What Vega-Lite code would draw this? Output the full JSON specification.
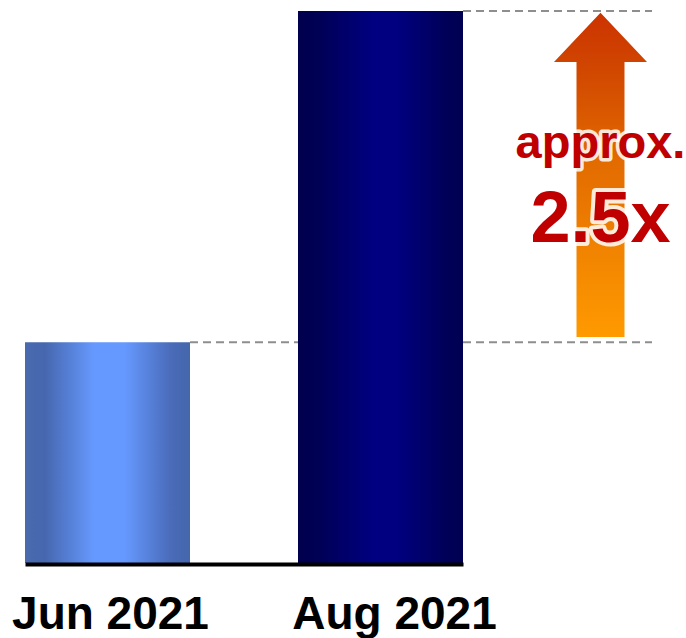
{
  "$schema": "https://vega.github.io/schema/vega-lite/v6.json",
  "width": 627,
  "height": 552,
  "autosize": "none",
  "padding": {"left": 25, "top": 11, "right": 34, "bottom": 75},
  "background": "white",
  "config": {"view": {"stroke": null}},
  "datasets": {
    "bars": [
      {"month": "Jun 2021", "value": 1},
      {"month": "Aug 2021", "value": 2.5}
    ],
    "change": [
      {"month": "Aug 2021", "from": 1, "to": 2.5, "note": "approx.", "ratio": "2.5x"}
    ]
  },
  "encoding": {
    "x": {
      "field": "month",
      "type": "nominal",
      "scale": {"domain": ["Jun 2021", "Aug 2021"], "range": [0, 438], "paddingInner": 0.3956, "paddingOuter": 0},
      "axis": {
        "title": null,
        "zindex": 1,
        "offset": 1,
        "labelAngle": 0,
        "labelLimit": 0,
        "labelOverlap": false,
        "ticks": false,
        "tickSize": 0,
        "domainColor": "#000000",
        "domainWidth": 4,
        "labelFont": "Liberation Sans",
        "labelFontWeight": "bold",
        "labelFontSize": 46,
        "labelColor": "#000000",
        "labelBaseline": "alphabetic",
        "labelPadding": 64,
        "labelOffset": {"condition": {"test": "datum.value === 'Aug 2021'", "value": 14}, "value": 3}
      }
    }
  },
  "layer": [
    {
      "data": {"name": "bars"},
      "mark": {"type": "rule", "color": "#8E8E8E", "strokeWidth": 2, "strokeDash": [8, 5]},
      "encoding": {
        "x": {"field": "month", "type": "nominal", "bandPosition": 1},
        "x2": {"value": "width"},
        "y": {"field": "value", "type": "quantitative", "scale": {"domain": [0, 2.5], "nice": false, "zero": true}, "axis": null}
      }
    },
    {
      "data": {"name": "bars"},
      "transform": [{"filter": "datum.month === 'Jun 2021'"}],
      "mark": {
        "type": "bar",
        "color": {
          "gradient": "linear", "x1": 0, "y1": 0, "x2": 1, "y2": 0,
          "stops": [
            {"offset": 0, "color": "#4A6AAE"},
            {"offset": 0.12, "color": "#4667AE"},
            {"offset": 0.42, "color": "#6699FF"},
            {"offset": 0.6, "color": "#6699FF"},
            {"offset": 0.88, "color": "#4A6CBA"},
            {"offset": 1, "color": "#4466AA"}
          ]
        }
      },
      "encoding": {
        "y": {"field": "value", "type": "quantitative"}
      }
    },
    {
      "data": {"name": "bars"},
      "transform": [{"filter": "datum.month === 'Aug 2021'"}],
      "mark": {
        "type": "bar",
        "color": {
          "gradient": "linear", "x1": 0, "y1": 0, "x2": 1, "y2": 0,
          "stops": [
            {"offset": 0, "color": "#00004E"},
            {"offset": 0.12, "color": "#000055"},
            {"offset": 0.45, "color": "#000080"},
            {"offset": 0.6, "color": "#000080"},
            {"offset": 0.9, "color": "#000058"},
            {"offset": 1, "color": "#000052"}
          ]
        }
      },
      "encoding": {
        "y": {"field": "value", "type": "quantitative"}
      }
    },
    {
      "data": {"name": "change"},
      "mark": {
        "type": "point",
        "filled": true,
        "opacity": 1,
        "size": 8649,
        "shape": "M0,0.04 L1,1.097 L0.516,1.097 L0.516,7.01 L-0.516,7.01 L-0.516,1.097 L-1,1.097 Z",
        "fill": {
          "gradient": "linear", "x1": 0, "y1": 0, "x2": 0, "y2": 1,
          "stops": [
            {"offset": 0, "color": "#CC3300"},
            {"offset": 0.16, "color": "#D04500"},
            {"offset": 0.45, "color": "#E26A00"},
            {"offset": 0.75, "color": "#F28500"},
            {"offset": 1, "color": "#FF9A00"}
          ]
        }
      },
      "encoding": {
        "x": {"field": "month", "type": "nominal", "bandPosition": 1.8333},
        "y": {"field": "to", "type": "quantitative"}
      }
    },
    {
      "data": {"name": "change"},
      "mark": {"type": "text", "font": "Liberation Sans", "fontWeight": "bold", "fontSize": 47, "align": "center", "baseline": "alphabetic", "fill": "#C00000", "stroke": "white", "strokeWidth": 7, "strokeOpacity": 0.85, "strokeJoin": "round"},
      "encoding": {
        "x": {"field": "month", "type": "nominal", "bandPosition": 1.8333},
        "y": {"datum": 1.834, "type": "quantitative"},
        "text": {"field": "note"}
      }
    },
    {
      "data": {"name": "change"},
      "mark": {"type": "text", "font": "Liberation Sans", "fontWeight": "bold", "fontSize": 47, "align": "center", "baseline": "alphabetic", "fill": "#C00000"},
      "encoding": {
        "x": {"field": "month", "type": "nominal", "bandPosition": 1.8333},
        "y": {"datum": 1.834, "type": "quantitative"},
        "text": {"field": "note"}
      }
    },
    {
      "data": {"name": "change"},
      "mark": {"type": "text", "font": "Liberation Sans", "fontWeight": "bold", "fontSize": 72, "align": "center", "baseline": "alphabetic", "fill": "#C00000", "stroke": "white", "strokeWidth": 8, "strokeOpacity": 0.85, "strokeJoin": "round"},
      "encoding": {
        "x": {"field": "month", "type": "nominal", "bandPosition": 1.8333},
        "y": {"datum": 1.454, "type": "quantitative"},
        "text": {"field": "ratio"}
      }
    },
    {
      "data": {"name": "change"},
      "mark": {"type": "text", "font": "Liberation Sans", "fontWeight": "bold", "fontSize": 72, "align": "center", "baseline": "alphabetic", "fill": "#C00000"},
      "encoding": {
        "x": {"field": "month", "type": "nominal", "bandPosition": 1.8333},
        "y": {"datum": 1.454, "type": "quantitative"},
        "text": {"field": "ratio"}
      }
    }
  ]
}
